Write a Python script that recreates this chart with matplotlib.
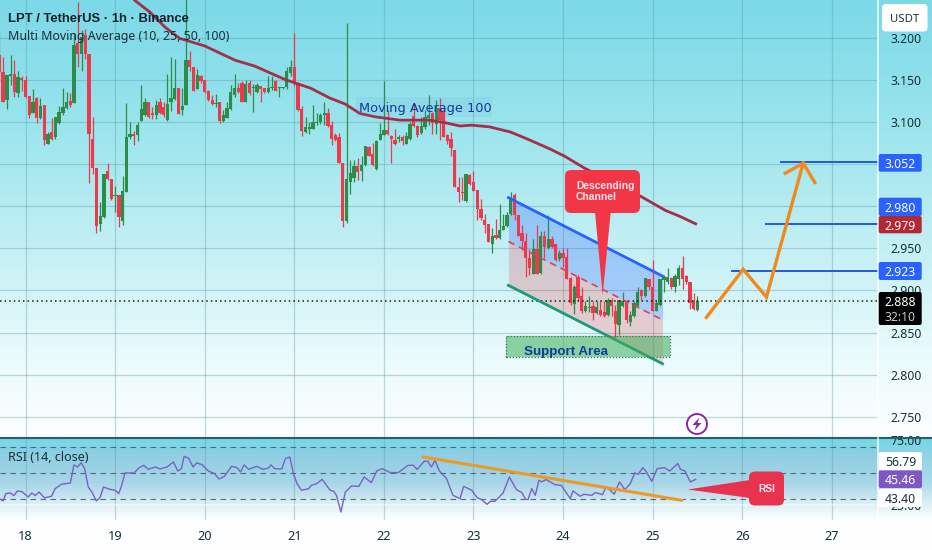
import numpy as np
import matplotlib
matplotlib.use("Agg")
import matplotlib.pyplot as plt
from matplotlib.colors import LinearSegmentedColormap
from matplotlib.patches import FancyBboxPatch, Polygon, Circle, Rectangle

W, H = 932, 550
plt.rcParams['font.family'] = ['Noto Sans', 'DejaVu Sans']
BOLD = 'Liberation Sans'

# %%
# Hourly candles (first candle is 7 hours before day 18)
first_hour = -7
opens = [3.179, 3.159, 3.126, 3.154, 3.157, 3.134, 3.152, 3.150, 3.131, 3.111, 3.128, 3.104, 3.120, 3.074, 3.088, 3.082,
         3.098, 3.110, 3.116, 3.125, 3.122, 3.193, 3.181, 3.203, 3.181, 3.080, 3.045, 2.979, 2.987, 3.042, 3.032, 3.012,
         3.013, 2.982, 3.017, 3.082, 3.086, 3.084, 3.101, 3.108, 3.124, 3.110, 3.108, 3.123, 3.118, 3.102, 3.124, 3.127,
         3.140, 3.114, 3.120, 3.173, 3.165, 3.139, 3.154, 3.150, 3.137, 3.126, 3.121, 3.123, 3.101, 3.105, 3.115, 3.132,
         3.140, 3.146, 3.124, 3.146, 3.140, 3.135, 3.143, 3.140, 3.135, 3.140, 3.149, 3.140, 3.140, 3.141, 3.158, 3.165,
         3.146, 3.115, 3.088, 3.092, 3.092, 3.098, 3.100, 3.108, 3.111, 3.096, 3.084, 3.082, 3.051, 2.982, 3.029, 3.033,
         3.047, 3.042, 3.049, 3.070, 3.062, 3.044, 3.079, 3.084, 3.090, 3.083, 3.078, 3.080, 3.082, 3.074, 3.080, 3.107,
         3.095, 3.087, 3.094, 3.105, 3.110, 3.097, 3.116, 3.113, 3.084, 3.080, 3.067, 3.023, 3.017, 3.006, 3.037, 3.029,
         3.019, 2.997, 2.984, 2.979, 2.955, 2.966, 2.962, 2.972, 2.976, 2.991, 3.013, 2.990, 2.968, 2.959, 2.939, 2.920,
         2.949, 2.921, 2.965, 2.950, 2.961, 2.955, 2.937, 2.944, 2.940, 2.915, 2.884, 2.916, 2.893, 2.875, 2.879, 2.881,
         2.873, 2.877, 2.874, 2.871, 2.889, 2.875, 2.859, 2.881, 2.887, 2.862, 2.870, 2.882, 2.900, 2.893, 2.914, 2.904,
         2.876, 2.883, 2.912, 2.910, 2.915, 2.904, 2.914, 2.927, 2.917, 2.910, 2.887, 2.877]
highs = [3.205, 3.177, 3.155, 3.179, 3.173, 3.160, 3.154, 3.154, 3.131, 3.139, 3.130, 3.128, 3.120, 3.088, 3.105, 3.106,
         3.119, 3.140, 3.135, 3.134, 3.205, 3.242, 3.209, 3.210, 3.181, 3.106, 3.045, 3.005, 3.038, 3.051, 3.032, 3.024,
         3.013, 3.036, 3.122, 3.100, 3.089, 3.100, 3.144, 3.128, 3.124, 3.118, 3.126, 3.128, 3.124, 3.157, 3.177, 3.174,
         3.140, 3.140, 3.250, 3.184, 3.165, 3.163, 3.155, 3.150, 3.138, 3.132, 3.133, 3.124, 3.114, 3.124, 3.144, 3.157,
         3.146, 3.148, 3.150, 3.150, 3.145, 3.146, 3.143, 3.140, 3.154, 3.154, 3.150, 3.141, 3.141, 3.165, 3.173, 3.205,
         3.146, 3.119, 3.106, 3.100, 3.120, 3.110, 3.110, 3.124, 3.116, 3.101, 3.087, 3.087, 3.051, 3.217, 3.055, 3.055,
         3.057, 3.059, 3.071, 3.071, 3.075, 3.078, 3.098, 3.149, 3.114, 3.084, 3.092, 3.084, 3.084, 3.088, 3.100, 3.122,
         3.096, 3.106, 3.114, 3.132, 3.112, 3.126, 3.128, 3.113, 3.086, 3.088, 3.067, 3.035, 3.034, 3.038, 3.038, 3.042,
         3.019, 3.009, 2.991, 2.979, 2.974, 2.985, 3.003, 2.991, 2.993, 3.017, 3.015, 2.990, 2.978, 2.968, 2.949, 2.961,
         2.977, 2.970, 2.970, 2.989, 2.964, 2.955, 2.948, 2.950, 2.950, 2.916, 2.906, 2.918, 2.904, 2.887, 2.893, 2.887,
         2.887, 2.887, 2.887, 2.891, 2.891, 2.883, 2.889, 2.898, 2.889, 2.875, 2.887, 2.904, 2.902, 2.915, 2.914, 2.936,
         2.887, 2.914, 2.918, 2.926, 2.916, 2.919, 2.930, 2.941, 2.918, 2.910, 2.897, 2.893]
lows = [3.150, 3.124, 3.115, 3.144, 3.130, 3.130, 3.137, 3.128, 3.105, 3.110, 3.098, 3.103, 3.073, 3.074, 3.079, 3.080,
        3.097, 3.108, 3.115, 3.118, 3.122, 3.165, 3.160, 3.174, 3.028, 3.038, 2.968, 2.970, 2.986, 3.031, 3.007, 2.993,
        2.975, 2.978, 3.017, 3.080, 3.073, 3.077, 3.101, 3.107, 3.104, 3.103, 3.103, 3.109, 3.106, 3.101, 3.113, 3.126,
        3.109, 3.108, 3.120, 3.160, 3.136, 3.139, 3.146, 3.134, 3.125, 3.120, 3.117, 3.099, 3.100, 3.105, 3.114, 3.130,
        3.134, 3.124, 3.124, 3.132, 3.112, 3.134, 3.124, 3.134, 3.134, 3.138, 3.136, 3.130, 3.139, 3.139, 3.154, 3.142,
        3.113, 3.083, 3.087, 3.086, 3.092, 3.096, 3.097, 3.096, 3.094, 3.073, 3.077, 3.051, 2.975, 2.980, 3.014, 3.029,
        3.031, 3.030, 3.048, 3.059, 3.048, 3.043, 3.078, 3.084, 3.084, 3.051, 3.072, 3.076, 3.073, 3.074, 3.079, 3.094,
        3.082, 3.086, 3.092, 3.096, 3.086, 3.086, 3.079, 3.082, 3.074, 3.059, 3.023, 3.005, 3.007, 3.005, 3.025, 3.018,
        2.983, 2.983, 2.968, 2.957, 2.944, 2.961, 2.961, 2.972, 2.975, 2.989, 2.984, 2.964, 2.948, 2.916, 2.918, 2.919,
        2.920, 2.920, 2.938, 2.949, 2.950, 2.935, 2.935, 2.928, 2.913, 2.883, 2.872, 2.889, 2.873, 2.874, 2.874, 2.865,
        2.872, 2.870, 2.869, 2.870, 2.870, 2.843, 2.847, 2.880, 2.861, 2.858, 2.869, 2.881, 2.889, 2.892, 2.902, 2.875,
        2.875, 2.881, 2.898, 2.908, 2.902, 2.898, 2.906, 2.902, 2.908, 2.878, 2.877, 2.875]
closes = [3.159, 3.124, 3.155, 3.157, 3.135, 3.153, 3.150, 3.130, 3.108, 3.124, 3.105, 3.119, 3.078, 3.086, 3.080, 3.106,
          3.112, 3.118, 3.124, 3.120, 3.191, 3.181, 3.201, 3.181, 3.086, 3.045, 2.976, 2.988, 3.038, 3.032, 3.009, 3.013,
          2.987, 3.018, 3.082, 3.085, 3.083, 3.096, 3.115, 3.124, 3.106, 3.108, 3.120, 3.111, 3.108, 3.121, 3.128, 3.140,
          3.109, 3.119, 3.173, 3.165, 3.137, 3.156, 3.148, 3.135, 3.126, 3.121, 3.122, 3.101, 3.108, 3.116, 3.135, 3.140,
          3.135, 3.124, 3.145, 3.134, 3.141, 3.144, 3.139, 3.135, 3.140, 3.141, 3.137, 3.141, 3.141, 3.160, 3.165, 3.146,
          3.114, 3.089, 3.094, 3.094, 3.100, 3.100, 3.108, 3.110, 3.095, 3.080, 3.078, 3.051, 2.982, 3.032, 3.039, 3.047,
          3.041, 3.049, 3.071, 3.060, 3.049, 3.077, 3.086, 3.090, 3.086, 3.080, 3.074, 3.082, 3.077, 3.083, 3.097, 3.095,
          3.084, 3.095, 3.106, 3.108, 3.098, 3.116, 3.102, 3.082, 3.077, 3.069, 3.023, 3.017, 3.015, 3.038, 3.026, 3.018,
          2.996, 2.986, 2.978, 2.957, 2.965, 2.962, 2.972, 2.976, 2.990, 3.011, 2.989, 2.965, 2.959, 2.939, 2.926, 2.949,
          2.920, 2.965, 2.951, 2.961, 2.951, 2.936, 2.944, 2.939, 2.914, 2.885, 2.904, 2.891, 2.875, 2.881, 2.880, 2.873,
          2.880, 2.871, 2.870, 2.889, 2.881, 2.860, 2.889, 2.887, 2.865, 2.871, 2.885, 2.898, 2.893, 2.915, 2.904, 2.876,
          2.885, 2.913, 2.916, 2.916, 2.904, 2.917, 2.926, 2.913, 2.910, 2.885, 2.878, 2.888]

# %%
# Moving average 100 and RSI
ma_days = [19.22, 19.39, 19.56, 19.72, 20.00, 20.34, 20.56, 20.90, 21.18, 21.40, 21.57, 21.73, 21.90, 22.18, 22.51,
           22.68, 22.85, 22.98, 23.18, 23.41, 23.57, 23.85, 24.02, 24.24, 24.86, 25.14, 25.30, 25.48]
ma_values = [3.244, 3.230, 3.212, 3.199, 3.190, 3.173, 3.166, 3.150, 3.140, 3.128, 3.121, 3.110, 3.106, 3.102, 3.102,
             3.099, 3.095, 3.096, 3.094, 3.088, 3.081, 3.068, 3.059, 3.045, 3.012, 2.995, 2.988, 2.979]

rsi_days = [17.72, 17.75, 17.78, 17.83, 17.87, 17.91, 17.96, 18.03, 18.07, 18.11, 18.15, 18.21, 18.29, 18.33, 18.40,
            18.50, 18.54, 18.58, 18.62, 18.66, 18.70, 18.74, 18.79, 18.83, 18.87, 18.94, 19.00, 19.04, 19.07, 19.11,
            19.21, 19.27, 19.32, 19.37, 19.45, 19.50, 19.58, 19.65, 19.70, 19.74, 19.77, 19.82, 19.87, 19.91, 19.97,
            20.04, 20.11, 20.16, 20.22, 20.30, 20.36, 20.40, 20.44, 20.49, 20.58, 20.65, 20.71, 20.74, 20.78, 20.86,
            20.90, 20.95, 20.99, 21.03, 21.08, 21.16, 21.19, 21.25, 21.31, 21.40, 21.44, 21.47, 21.52, 21.57, 21.64,
            21.72, 21.78, 21.86, 21.92, 21.98, 22.07, 22.16, 22.27, 22.33, 22.37, 22.45, 22.49, 22.53, 22.57, 22.62,
            22.70, 22.77, 22.85, 22.89, 22.98, 23.04, 23.09, 23.15, 23.19, 23.24, 23.33, 23.40, 23.48, 23.54, 23.58,
            23.61, 23.65, 23.69, 23.73, 23.76, 23.81, 23.91, 23.98, 24.03, 24.08, 24.11, 24.19, 24.23, 24.32, 24.36,
            24.44, 24.48, 24.52, 24.57, 24.63, 24.69, 24.75, 24.80, 24.84, 24.89, 24.93, 24.99, 25.05, 25.13, 25.19,
            25.28, 25.31, 25.36, 25.42, 25.48]
rsi_values = [29.7, 28.5, 34.1, 34.6, 32.6, 36.2, 35.6, 31.5, 34.6, 32.6, 35.4, 30.8, 32.1, 37.9, 41.3,
              42.3, 56.2, 54.6, 57.9, 53.3, 39.2, 35.4, 28.5, 30.8, 39.2, 37.4, 36.7, 34.1, 39.7, 50.0,
              50.0, 54.1, 55.9, 52.8, 54.6, 53.1, 54.6, 58.5, 51.5, 53.3, 62.8, 61.3, 54.6, 57.7, 56.4,
              51.5, 49.5, 45.4, 47.4, 55.1, 54.1, 50.8, 56.2, 52.8, 55.1, 52.8, 53.8, 56.2, 53.3, 53.1,
              61.0, 62.3, 49.5, 41.8, 36.7, 37.9, 40.5, 41.8, 45.1, 36.7, 35.9, 32.8, 20.0, 35.4, 40.0,
              39.7, 46.9, 42.6, 51.5, 53.3, 50.3, 50.3, 55.9, 55.9, 52.6, 59.0, 59.0, 54.6, 59.7, 51.5,
              45.6, 32.8, 30.3, 39.7, 36.7, 31.0, 29.5, 25.9, 28.2, 28.2, 34.6, 46.9, 37.2, 34.9, 29.7,
              29.7, 37.9, 32.8, 44.4, 43.1, 44.9, 41.0, 40.5, 35.4, 30.3, 36.2, 32.1, 33.6, 32.8, 34.9,
              33.3, 39.2, 37.2, 33.6, 43.1, 37.2, 41.8, 50.0, 49.0, 54.1, 50.8, 43.6, 53.3, 54.1, 51.5,
              57.2, 52.8, 51.5, 43.1, 45.1]
rsi_levels = [70, 50, 30]
rsi_ticks = [75, 25]
rsi_trend_days = [22.44, 25.32]
rsi_trend_values = [62.3, 29.0]

# %%
# Drawings on the chart
last_price = 2.888
price_ticks = [2.75, 2.80, 2.85, 2.90, 2.95, 3.00, 3.05, 3.10, 3.15, 3.20]
price_labels = ["2.750", "2.800", "2.850", "2.900", "2.950", "", "", "3.100", "3.150", "3.200"]
day_ticks = [18, 19, 20, 21, 22, 23, 24, 25, 26, 27]

channel_days = [23.39, 25.11]
channel_top = [3.010, 2.917]
channel_mid = [2.958, 2.865]
channel_low = [2.906, 2.813]
support_days = [23.36, 25.19]
support_prices = [2.821, 2.846]
target_prices = [3.052, 2.979, 2.923]
target_starts = [26.43, 26.26, 25.89]
path_days = [25.60, 26.01, 26.27, 26.68]
path_prices = [2.868, 2.925, 2.892, 3.051]
head_days = [26.48, 26.68, 26.81]
head_prices = [3.039, 3.051, 3.028]

# %%
# Figure and backgrounds
fig = plt.figure(figsize=(W / 100, H / 100), dpi=100)

def px_axes(x0, y0, x1, y1, **kw):
    return fig.add_axes([x0 / W, 1 - y1 / H, (x1 - x0) / W, (y1 - y0) / H], **kw)

main_grad = LinearSegmentedColormap.from_list("main", ["#fcfeff", "#e8fafb", "#c8f1f5", "#aae9ef", "#90e1eb", "#7bd9e8"])
rsi_grad = LinearSegmentedColormap.from_list("rsi", [(0, "#ffffff"), (0.27, "#fdfeff"), (0.40, "#dff1f6"),
                                                     (0.6, "#aadcea"), (0.85, "#90d3e5"), (1, "#72d8e3")])
bg = px_axes(0, 0, W, H, zorder=0)
bg.axis("off")
bg.imshow(np.linspace(1, 0, 200)[:, None], cmap=main_grad, aspect="auto", extent=[0, W, 437.5, 0])
bg.imshow(np.linspace(1, 0, 200)[:, None], cmap=rsi_grad, aspect="auto", extent=[0, W, H, 438])
bg.set_xlim(0, W)
bg.set_ylim(H, 0)

grid_color = "#5f9aa6"
x0_day = 17.715
x1_day = 27.515

# %%
# Price pane
ax = px_axes(0, 0, 878, 437.5, zorder=1)
ax.patch.set_alpha(0)
ax.set_xlim(x0_day, x1_day)
ax.set_ylim(2.7255, 3.2445)
for s in ax.spines.values():
    s.set_visible(False)
ax.set_yticks(price_ticks)
ax.set_yticklabels(price_labels, color="#16303a", fontsize=8.8)
ax.yaxis.tick_right()
ax.tick_params(axis="y", length=0, pad=9)
ax.tick_params(axis="x", length=0, labelbottom=False)
ax.set_xticks(day_ticks)
ax.grid(True, color=grid_color, alpha=0.38, lw=0.9)
ax.set_axisbelow(True)

times = 18 + (first_hour + np.arange(len(opens))) / 24
opens_a, closes_a = np.array(opens), np.array(closes)
up = closes_a >= opens_a
red, green = "#ec3a4c", "#2c8c48"
candle_colors = np.where(up, green, red)
ax.vlines(times, lows, highs, colors=candle_colors, lw=0.9, zorder=3)
ax.bar(times, np.abs(closes_a - opens_a), bottom=np.minimum(opens_a, closes_a), width=0.88 / 24,
       color=candle_colors, lw=0, zorder=4)

ax.plot(ma_days, ma_values, color="#a3304a", lw=2.0, zorder=5)
ax.axhline(last_price, color="#1a1a1a", lw=1.1, ls=(0, (1, 2)), zorder=5)

# channel
ax.fill_between(channel_days, channel_mid, channel_top, color="#2962ff", alpha=0.27, lw=0, zorder=2)
ax.fill_between(channel_days, channel_low, channel_mid, color="#f23645", alpha=0.22, lw=0, zorder=2)
ax.plot(channel_days, channel_top, color="#2962ff", lw=2, zorder=6)
ax.plot(channel_days, channel_mid, color="#e0405a", lw=1.2, ls=(0, (4, 3)), zorder=6)
ax.plot(channel_days, channel_low, color="#1c9a78", lw=2, zorder=6)

# support area
ax.add_patch(Rectangle((support_days[0], support_prices[0]), support_days[1] - support_days[0],
                       support_prices[1] - support_prices[0], facecolor="#3fae5a", alpha=0.55, lw=0, zorder=6))
ax.add_patch(Rectangle((support_days[0], support_prices[0]), support_days[1] - support_days[0],
                       support_prices[1] - support_prices[0], fill=False, edgecolor="#2c7a45", lw=0.9,
                       ls=(0, (1, 1.5)), zorder=6))

# targets and the arrow
for p, d in zip(target_prices, target_starts):
    ax.plot([d, x1_day], [p, p], color="#2458e0", lw=1.4, zorder=6)
ax.plot(path_days, path_prices, color="#f08a1d", lw=2.4, zorder=7, solid_joinstyle="miter")
ax.plot(head_days, head_prices, color="#f08a1d", lw=2.4, zorder=7, solid_joinstyle="miter")

# %%
# RSI pane
ax2 = px_axes(0, 438, 878, 520, zorder=1)
ax2.patch.set_alpha(0)
ax2.set_xlim(x0_day, x1_day)
ax2.set_ylim(13.8, 76.9)
for s in ax2.spines.values():
    s.set_visible(False)
ax2.axhspan(rsi_levels[2], rsi_levels[0], color="#7e57c2", alpha=0.04, lw=0)
for lv in rsi_levels:
    ax2.axhline(lv, color="#3d5a68", lw=0.8, ls=(0, (5, 4)), alpha=0.85, zorder=2)
ax2.axhline(rsi_ticks[1], color="#ffffff", lw=1.2, alpha=0.5, zorder=2)
ax2.set_xticks(day_ticks)
ax2.set_xticklabels([str(d) for d in day_ticks], color="#16303a", fontsize=9.2)
ax2.tick_params(axis="x", length=0, pad=7)
ax2.set_yticks(rsi_ticks)
ax2.set_yticklabels(["%.2f" % t for t in rsi_ticks], color="#16303a", fontsize=8.8)
ax2.yaxis.tick_right()
ax2.tick_params(axis="y", length=0, pad=9)
ax2.grid(True, axis="x", color=grid_color, alpha=0.38, lw=0.9)
ax2.set_axisbelow(True)
ax2.plot(rsi_days, rsi_values, color="#7a62c0", lw=1.0, zorder=4)
ax2.plot(rsi_trend_days, rsi_trend_values, color="#eb9a28", lw=2.2, zorder=5)

# %%
# Overlay in pixels: labels on the scale, callouts, legend texts
ov = px_axes(0, 0, W, H, zorder=5)
ov.set_xlim(0, W)
ov.set_ylim(H, 0)
ov.axis("off")
ov.plot([0, W], [437.6, 437.6], color="#2b5d6b", lw=1.5)
ov.plot([878.3, 878.3], [0, 520], color="#ffffff", lw=1.4, alpha=0.7)

def pill(y0, y1, color, text, tcolor="white", x0=878.7, x1=921.7, size=8.8):
    ov.add_patch(FancyBboxPatch((x0 + 1, y0 + 1), x1 - x0 - 2, y1 - y0 - 2, boxstyle="round,pad=1,rounding_size=2",
                                facecolor=color, edgecolor="none", zorder=3))
    if text:
        ov.text((x0 + x1) / 2, (y0 + y1) / 2, text, color=tcolor, ha="center", va="center_baseline",
                fontsize=size, zorder=4)

ov.add_patch(FancyBboxPatch((883, 5), 43.5, 25.5, boxstyle="round,pad=1,rounding_size=4", facecolor="white",
                            edgecolor="none", zorder=3))
ov.text(904.7, 18.5, "USDT", color="#20323c", ha="center", va="center_baseline", fontsize=8.2, zorder=4)
pill(154, 171.7, "#2962ff", "3.052")
pill(197.7, 216, "#2962ff", "2.980")
pill(216, 233.3, "#b22833", "2.979")
pill(262, 280, "#2962ff", "2.923")
pill(292, 325, "#000000", "")
ov.text(900.2, 301, "2.888", color="white", ha="center", va="center_baseline", fontsize=8.8, zorder=4)
ov.text(900.2, 316, "32:10", color="#c8c8c8", ha="center", va="center_baseline", fontsize=8.8, zorder=4)
pill(452, 470, "#ffffff", "56.79", "#16303a", x1=922)
pill(470.5, 488, "#7e57c2", "45.46", x1=922)
pill(489, 507, "#ffffff", "43.40", "#16303a", x1=922)

ov.text(8, 18, "LPT / TetherUS \u00b7 1h \u00b7 Binance", color="#10202a", fontsize=9.4, fontweight="bold",
        family=BOLD, va="center_baseline")
ov.text(8, 35, "Multi Moving Average (10, 25, 50, 100)", color="#16303a", fontsize=8.9, va="center_baseline")
ov.text(8, 456, "RSI (14, close)", color="#16303a", fontsize=9, va="center_baseline")

ov.add_patch(Rectangle((356, 97), 136, 20, facecolor="#5a90d0", alpha=0.10, lw=0, zorder=2))
ov.text(359, 107, "Moving Average 100", color="#0f3c9c", fontsize=9.3, va="center_baseline", zorder=3,
        family="DejaVu Sans")
ov.text(566, 350, "Support Area", color="#0f3c9c", fontsize=9.6, fontweight="bold", family=BOLD, ha="center",
        va="center_baseline", zorder=3)

# callouts
callout = "#f23645"
ov.add_patch(FancyBboxPatch((570, 175), 65, 33, boxstyle="round,pad=5,rounding_size=6", facecolor=callout,
                            edgecolor="none", zorder=3))
ov.add_patch(Polygon([(595, 212), (610.7, 212), (602.7, 295)], closed=True, facecolor=callout, edgecolor="none",
                     zorder=3))
ov.text(576, 191.5, "Descending\nChannel", color="#ffe9ea", fontsize=7.4, fontweight="bold", family=BOLD, va="center",
        ha="left", linespacing=1.05, zorder=4)

rsi_red = "#e8334f"
ov.add_patch(FancyBboxPatch((754, 476.5), 25, 24, boxstyle="round,pad=5,rounding_size=6", facecolor=rsi_red,
                            edgecolor="none", zorder=3))
ov.add_patch(Polygon([(750, 480), (750, 498), (687.7, 489.5)], closed=True, facecolor=rsi_red, edgecolor="none",
                     zorder=3))
ov.text(766.5, 488.5, "RSI", color="#ffe9ea", fontsize=7.4, fontweight="bold", family=BOLD, ha="center",
        va="center_baseline", zorder=4)

# alert icon
ov.add_patch(Circle((697, 424), 10, facecolor="white", edgecolor="#8e24aa", lw=1.4, zorder=3))
ov.add_patch(Polygon([(699.5, 417.5), (692.5, 425), (696.5, 425), (694.5, 430.5), (701.5, 423), (697.5, 423)],
                     closed=True, facecolor="#8e24aa", edgecolor="none", zorder=4))

fig.savefig("out.png", dpi=100)
